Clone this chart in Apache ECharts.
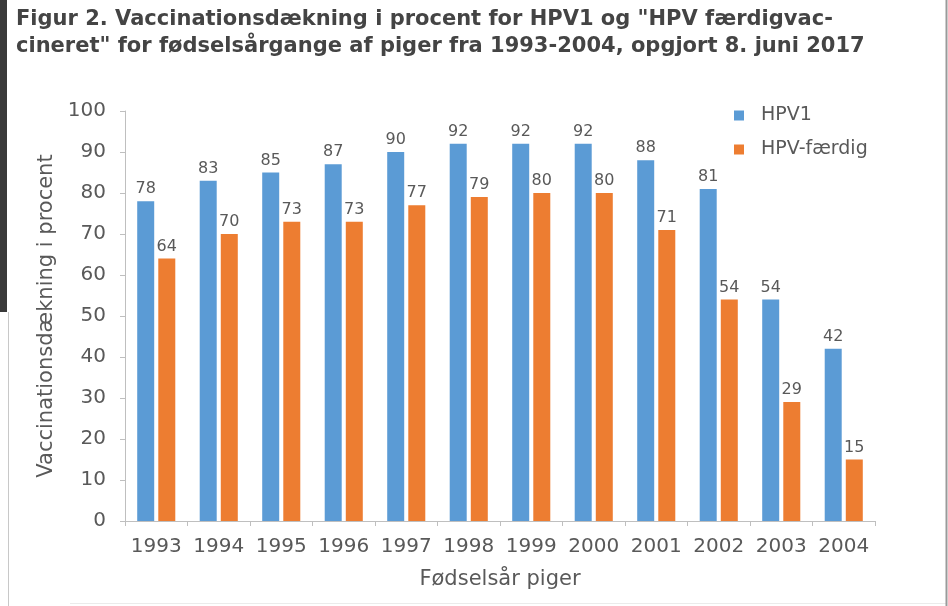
<!DOCTYPE html>
<html><head><meta charset="utf-8">
<script src="https://cdn.jsdelivr.net/npm/echarts@6/dist/echarts.min.js"></script>
<style>html,body{margin:0;padding:0;background:#fff}#c{width:948px;height:606px}</style>
</head><body><div id="c"></div>
<script>
var categories = ['1993','1994','1995','1996','1997','1998','1999','2000','2001','2002','2003','2004'];
var hpv1 = [78,83,85,87,90,92,92,92,88,81,54,42];
var hpvFaerdig = [64,70,73,73,77,79,80,80,71,54,29,15];
var seriesNames = ['HPV1','HPV-færdig'];
var titleText = 'Figur 2. Vaccinationsdækning i procent for HPV1 og "HPV færdigvac-\ncineret" for fødselsårgange af piger fra 1993-2004, opgjort 8. juni 2017';

var font = '"DejaVu Sans", sans-serif';
var txt = '#595959';
var chart = echarts.init(document.getElementById('c'));
chart.setOption({
  animation:false,
  backgroundColor:'#fff',
  color:['#5B9BD5','#ED7D31'],
  title:{text:titleText,left:11,top:1,textStyle:{fontFamily:font,fontWeight:'bold',fontSize:21,color:'#444',lineHeight:27}},
  legend:{orient:'vertical',left:729,top:101,itemWidth:10,itemHeight:10,itemGap:15,icon:'rect',
    textStyle:{fontFamily:font,fontSize:19,color:txt,padding:[0,0,0,12]},data:seriesNames},
  grid:{left:125,right:73,top:111,bottom:85},
  xAxis:{type:'category',data:categories,
    axisLine:{lineStyle:{color:'#bfbfbf'}},axisTick:{show:true,length:5,lineStyle:{color:'#bfbfbf'}},
    axisLabel:{fontFamily:font,fontSize:20,color:txt,margin:16,interval:0},
    name:'Fødselsår piger',nameLocation:'middle',nameGap:48,
    nameTextStyle:{fontFamily:font,fontSize:21,color:txt}},
  yAxis:{type:'value',min:0,max:100,interval:10,
    axisLine:{show:true,lineStyle:{color:'#bfbfbf'}},axisTick:{show:true,length:5,lineStyle:{color:'#bfbfbf'}},
    splitLine:{show:false},
    axisLabel:{fontFamily:font,fontSize:20,color:txt,margin:19},
    name:'Vaccinationsdækning i procent',nameLocation:'middle',nameGap:68,
    nameTextStyle:{fontFamily:font,fontSize:21,color:txt}},
  series:[
    {name:seriesNames[0],type:'bar',data:hpv1,barWidth:17,barGap:'24%',
     label:{show:true,position:'top',distance:4,fontFamily:font,fontSize:16,color:txt}},
    {name:seriesNames[1],type:'bar',data:hpvFaerdig,barWidth:17,barGap:'24%',
     label:{show:true,position:'top',distance:4,fontFamily:font,fontSize:16,color:txt}}
  ],
  graphic:[
    {type:'rect',shape:{x:0,y:0,width:7,height:312},style:{fill:'#3a3a3a'},silent:true},
    {type:'line',shape:{x1:8.5,y1:312,x2:8.5,y2:606},style:{stroke:'#c8c8c8',lineWidth:1},silent:true},
    {type:'line',shape:{x1:70,y1:603.5,x2:946,y2:603.5},style:{stroke:'#ebebeb',lineWidth:1},silent:true},
    {type:'line',shape:{x1:946.5,y1:0,x2:946.5,y2:606},style:{stroke:'#9a9a9a',lineWidth:2},silent:true}
  ]
});
</script></body></html>
